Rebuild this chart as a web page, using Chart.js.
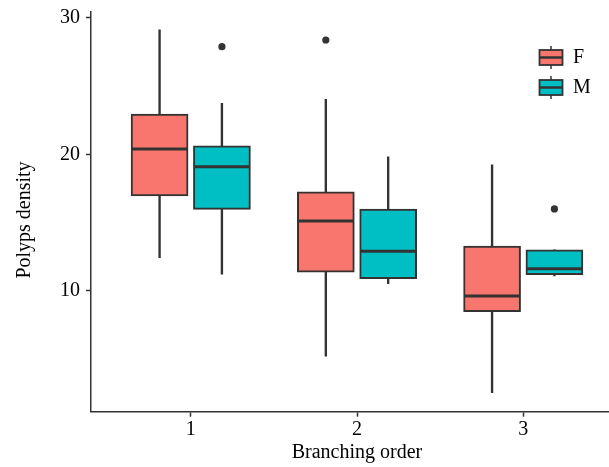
<!DOCTYPE html>
<html><head><meta charset="utf-8">
<script src="https://cdn.jsdelivr.net/npm/chart.js@4.4.1/dist/chart.umd.min.js"></script>
<style>
html,body{margin:0;padding:0;background:#fff;overflow:hidden;}
#wrap{width:609px;height:467px;overflow:hidden;position:relative;}
canvas{display:block;}
</style>
</head><body>
<div id="wrap"><canvas id="c" width="623" height="467"></canvas></div>
<script>
// ---- data ----
const categories = [1, 2, 3];
const xTickLabels = ['1', '2', '3'];
const yTicks = [10, 20, 30];
const seriesNames = ['F', 'M'];
const seriesColors = ['#F8766D', '#00BFC4'];
const xTitle = 'Branching order';
const yTitle = 'Polyps density';

const fLow    = [12.43, 5.23, 2.55];
const fQ1     = [16.95, 11.38, 8.48];
const fMedian = [20.39, 15.12, 9.63];
const fQ3     = [22.95, 17.26, 13.29];
const fHigh   = [29.11, 24.03, 19.24];
const fOutliers = [[], [28.37], []];

const mLow    = [11.22, 10.53, 11.10];
const mQ1     = [15.97, 10.89, 11.19];
const mMedian = [19.09, 12.90, 11.63];
const mQ3     = [20.63, 16.00, 13.00];
const mHigh   = [23.73, 19.82, 13.00];
const mOutliers = [[27.88], [], [16.00]];

// ---- layout / style ----
const dodge = 0.1875;
const lineCol = '#333333';
const FONT = { family: '"Liberation Serif", "Times New Roman", serif', size: 20 };

const series = [
  { name: seriesNames[0], color: seriesColors[0], off: -dodge, low: fLow, q1: fQ1, med: fMedian, q3: fQ3, high: fHigh, out: fOutliers },
  { name: seriesNames[1], color: seriesColors[1], off: dodge, low: mLow, q1: mQ1, med: mMedian, q3: mQ3, high: mHigh, out: mOutliers }
];

const datasets = [];
series.forEach(s => {
  datasets.push({
    type: 'bar', label: s.name + ' whisker', stack: 'all', order: 5,
    data: categories.map((c, i) => ({ x: c + s.off, y: [s.low[i], s.high[i]] })),
    backgroundColor: lineCol, borderWidth: 0, barThickness: 1.7
  });
});
series.forEach(s => {
  datasets.push({
    type: 'bar', label: s.name, stack: 'all', order: 4,
    data: categories.map((c, i) => ({ x: c + s.off, y: [s.q1[i], s.q3[i]] })),
    backgroundColor: s.color, borderColor: lineCol, borderWidth: 2, borderSkipped: false,
    barThickness: 57
  });
});
series.forEach(s => {
  datasets.push({
    type: 'scatter', label: s.name + ' median', order: 2,
    data: categories.map((c, i) => ({ x: c + s.off, y: s.med[i] })),
    pointStyle: 'line', pointRadius: 28, pointHoverRadius: 28,
    borderColor: lineCol, borderWidth: 3, backgroundColor: lineCol, clip: false
  });
});
series.forEach(s => {
  const pts = [];
  categories.forEach((c, i) => s.out[i].forEach(v => pts.push({ x: c + s.off, y: v })));
  datasets.push({
    type: 'scatter', label: s.name + ' outliers', order: 1,
    data: pts, pointStyle: 'circle', pointRadius: 3.6, pointHoverRadius: 3.6,
    backgroundColor: lineCol, borderWidth: 0
  });
});

const legendPlugin = {
  id: 'boxLegend',
  afterDraw(chart) {
    const ctx = chart.ctx;
    seriesNames.forEach((name, i) => {
      const cy = 57.5 + i * 30, x0 = 539.5, w = 23, h = 15;
      ctx.save();
      ctx.strokeStyle = lineCol;
      ctx.lineWidth = 1.5;
      ctx.beginPath(); ctx.moveTo(x0 + w / 2, cy - 11.5); ctx.lineTo(x0 + w / 2, cy + 11.5); ctx.stroke();
      ctx.fillStyle = seriesColors[i];
      ctx.fillRect(x0, cy - h / 2, w, h);
      ctx.lineWidth = 1.8;
      ctx.strokeRect(x0, cy - h / 2, w, h);
      ctx.lineWidth = 2.5;
      ctx.beginPath(); ctx.moveTo(x0, cy); ctx.lineTo(x0 + w, cy); ctx.stroke();
      ctx.fillStyle = '#000';
      ctx.font = FONT.size + 'px ' + FONT.family;
      ctx.textBaseline = 'middle';
      ctx.textAlign = 'left';
      ctx.fillText(name, 573, cy + 0.5);
      ctx.restore();
    });
    // y-axis title (centred where the reference places it)
    ctx.save();
    ctx.translate(25, 220);
    ctx.rotate(-Math.PI / 2);
    ctx.fillStyle = '#000';
    ctx.font = FONT.size + 'px ' + FONT.family;
    ctx.textAlign = 'center';
    ctx.textBaseline = 'middle';
    ctx.fillText(yTitle, 0, 0);
    ctx.restore();
  }
};

new Chart(document.getElementById('c'), {
  type: 'bar',
  data: { datasets },
  options: {
    responsive: false,
    animation: false,
    events: [],
    devicePixelRatio: 1,
    layout: { autoPadding: false, padding: { top: 11.7, right: 0, left: 0, bottom: 0 } },
    plugins: { legend: { display: false }, tooltip: { enabled: false } },
    scales: {
      x: {
        type: 'linear', min: 0.4, max: 3.6, stacked: true, offset: false,
        afterBuildTicks: sc => { sc.ticks = categories.map(v => ({ value: v })); },
        afterFit: sc => { sc.height = 55.3; sc.paddingLeft = 0; sc.paddingRight = 0; },
        ticks: { font: FONT, color: '#000', padding: 1, maxRotation: 0, autoSkip: false,
                 callback: (v, i) => xTickLabels[i] },
        grid: { display: true, drawOnChartArea: false, drawTicks: true, tickLength: 5, tickWidth: 1.5, tickColor: lineCol, offset: false },
        border: { display: true, color: lineCol, width: 1.5 },
        title: { display: true, text: xTitle, font: FONT, color: '#000', padding: { top: 0, bottom: 2.5 } }
      },
      y: {
        type: 'linear', min: 1.16, max: 30.44, stacked: false,
        afterBuildTicks: sc => { sc.ticks = yTicks.map(v => ({ value: v })); },
        afterFit: sc => { sc.width = 91; sc.paddingTop = 0; sc.paddingBottom = 0; },
        ticks: { font: FONT, color: '#000', padding: 6, callback: v => String(v) },
        grid: { display: true, drawOnChartArea: false, drawTicks: true, tickLength: 5, tickWidth: 1.5, tickColor: lineCol },
        border: { display: true, color: lineCol, width: 1.5 },
        title: { display: false }
      }
    }
  },
  plugins: [legendPlugin]
});
</script>
</body></html>
